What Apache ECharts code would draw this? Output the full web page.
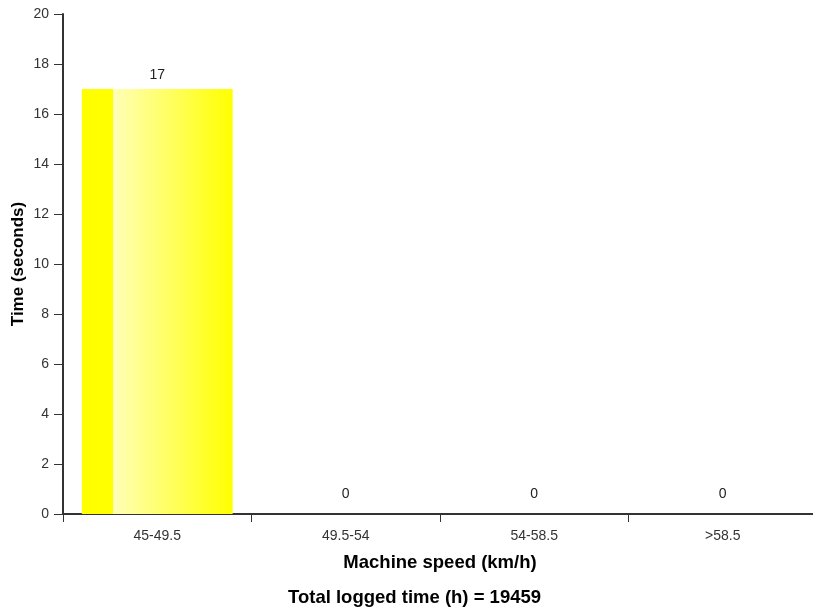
<!DOCTYPE html>
<html><head><meta charset="utf-8">
<script src="https://cdn.jsdelivr.net/npm/echarts@6/dist/echarts.min.js"></script>
<style>html,body{margin:0;padding:0;background:#fff}#c{width:813px;height:610px}</style>
</head><body><div id="c"></div>
<script>
const categories = ['45-49.5', '49.5-54', '54-58.5', '>58.5'];
const values = [17, 0, 0, 0];
const yTicks = [0, 2, 4, 6, 8, 10, 12, 14, 16, 18, 20];
const totalLogged = 19459;

const chart = echarts.init(document.getElementById('c'));
const barColor = new echarts.graphic.LinearGradient(0, 0, 1, 0, [
  {offset: 0, color: '#ffff00'},
  {offset: 0.205, color: '#ffff00'},
  {offset: 0.206, color: '#ffffb8'},
  {offset: 1, color: '#ffff00'}
]);
const font = 'Arial, "Liberation Sans", sans-serif';
chart.setOption({
  animation: false,
  title: {
    text: 'Total logged time (h) = ' + totalLogged,
    left: 283, top: 583,
    textStyle: {fontFamily: font, fontSize: 18.5, fontWeight: 'bold', color: '#000'}
  },
  grid: {left: 63, top: 14, width: 754, height: 500, containLabel: false, outerBoundsMode: 'none'},
  xAxis: {
    type: 'category', data: categories,
    name: 'Machine speed (km/h)', nameLocation: 'middle', nameGap: 39,
    nameTextStyle: {fontFamily: font, fontSize: 18.5, fontWeight: 'bold', color: '#000'},
    axisLine: {lineStyle: {color: '#333', width: 2}},
    axisTick: {show: true, length: 8, lineStyle: {color: '#333'}},
    axisLabel: {fontFamily: font, fontSize: 14, color: '#333', margin: 15}
  },
  yAxis: {
    type: 'value', min: 0, max: 20, interval: 2,
    name: 'Time (seconds)', nameLocation: 'middle', nameGap: 36, nameMoveOverlap: false,
    nameTextStyle: {fontFamily: font, fontSize: 17, fontWeight: 'bold', color: '#000'},
    axisLine: {show: true, lineStyle: {color: '#333', width: 2}},
    axisTick: {show: true, length: 9, lineStyle: {color: '#333'}},
    axisLabel: {fontFamily: font, fontSize: 14, color: '#333', margin: 14,
      formatter: v => yTicks.includes(v) ? String(v) : ''},
    splitLine: {show: false}
  },
  series: [{
    type: 'bar',
    barWidth: '80%',
    data: values.map(v => ({value: v, label: {distance: v === 0 ? 13 : 7}})),
    itemStyle: {color: barColor},
    label: {show: true, position: 'top', fontFamily: font, fontSize: 14, color: '#222'}
  }]
});
</script></body></html>
